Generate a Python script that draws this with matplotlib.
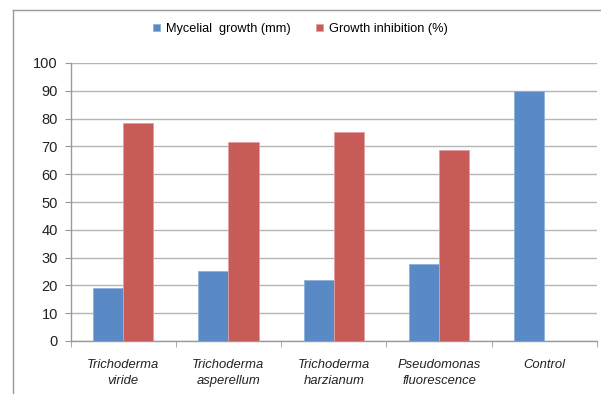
import numpy as np
import matplotlib
matplotlib.use("Agg")
import matplotlib.pyplot as plt
from matplotlib.lines import Line2D

plt.rcParams["font.family"] = ["Liberation Sans", "DejaVu Sans"]

# data
categories = ["Trichoderma\nviride", "Trichoderma\nasperellum", "Trichoderma\nharzianum",
              "Pseudomonas\nfluorescence", "Control"]
mycelial_growth = [19.2, 25.2, 22.1, 27.7, 90.0]
growth_inhibition = [78.4, 71.7, 75.2, 68.7, 0.0]
y_ticks = list(range(0, 101, 10))

W, H = 601, 394
fig = plt.figure(figsize=(W / 100, H / 100), dpi=100)

# outer chart frame (left + top edges only visible)
fig.add_artist(Line2D([13 / W, 13 / W], [0, 1 - 10 / H], color="#9a9a9a", lw=1))
fig.add_artist(Line2D([13 / W, 1], [1 - 10 / H, 1 - 10 / H], color="#9a9a9a", lw=1))

# plot area in pixels
left, right, top, bottom = 70.5, 597, 63, 341
ax = fig.add_axes([left / W, 1 - bottom / H, (right - left) / W, (bottom - top) / H])

x = np.arange(len(categories))
w = 1 / 3.5
ax.bar(x - w / 2, mycelial_growth, w, color="#5a8ac6", edgecolor="#8fb0dc", lw=0.6,
       label="Mycelial  growth (mm)", zorder=3)
ax.bar(x + w / 2, growth_inhibition, w, color="#c65b58", edgecolor="#e0a09e", lw=0.6,
       label="Growth inhibition (%)", zorder=3)

ax.set_xlim(-0.5, len(categories) - 0.5)
ax.set_ylim(0, 100)
ax.set_yticks(y_ticks)
ax.set_yticklabels([str(v) for v in y_ticks], fontsize=10.5, color="#222222")
ax.yaxis.grid(True, color="#b5b5b5", lw=1, zorder=0)

ax.set_xticks(x)
ax.set_xticklabels(categories, fontsize=9.4, style="italic", color="#222222", linespacing=1.4)
ax.set_xticks(np.arange(-0.5, len(categories)), minor=True)
ax.tick_params(axis="x", which="major", length=0, pad=13)
ax.tick_params(axis="x", which="minor", length=4, color="#9a9a9a", direction="out")
ax.tick_params(axis="y", length=4, color="#9a9a9a", pad=5)

for s in ["top", "right"]:
    ax.spines[s].set_visible(False)
for s in ["left", "bottom"]:
    ax.spines[s].set_color("#9a9a9a")
    ax.spines[s].set_linewidth(1)

leg = fig.legend(loc="center", bbox_to_anchor=(0.5, 1 - 29 / H), ncol=2, frameon=False,
                 fontsize=9.2, handlelength=0.55, handleheight=0.55, handletextpad=0.45,
                 columnspacing=2.0)

fig.savefig("out.png", dpi=100)
